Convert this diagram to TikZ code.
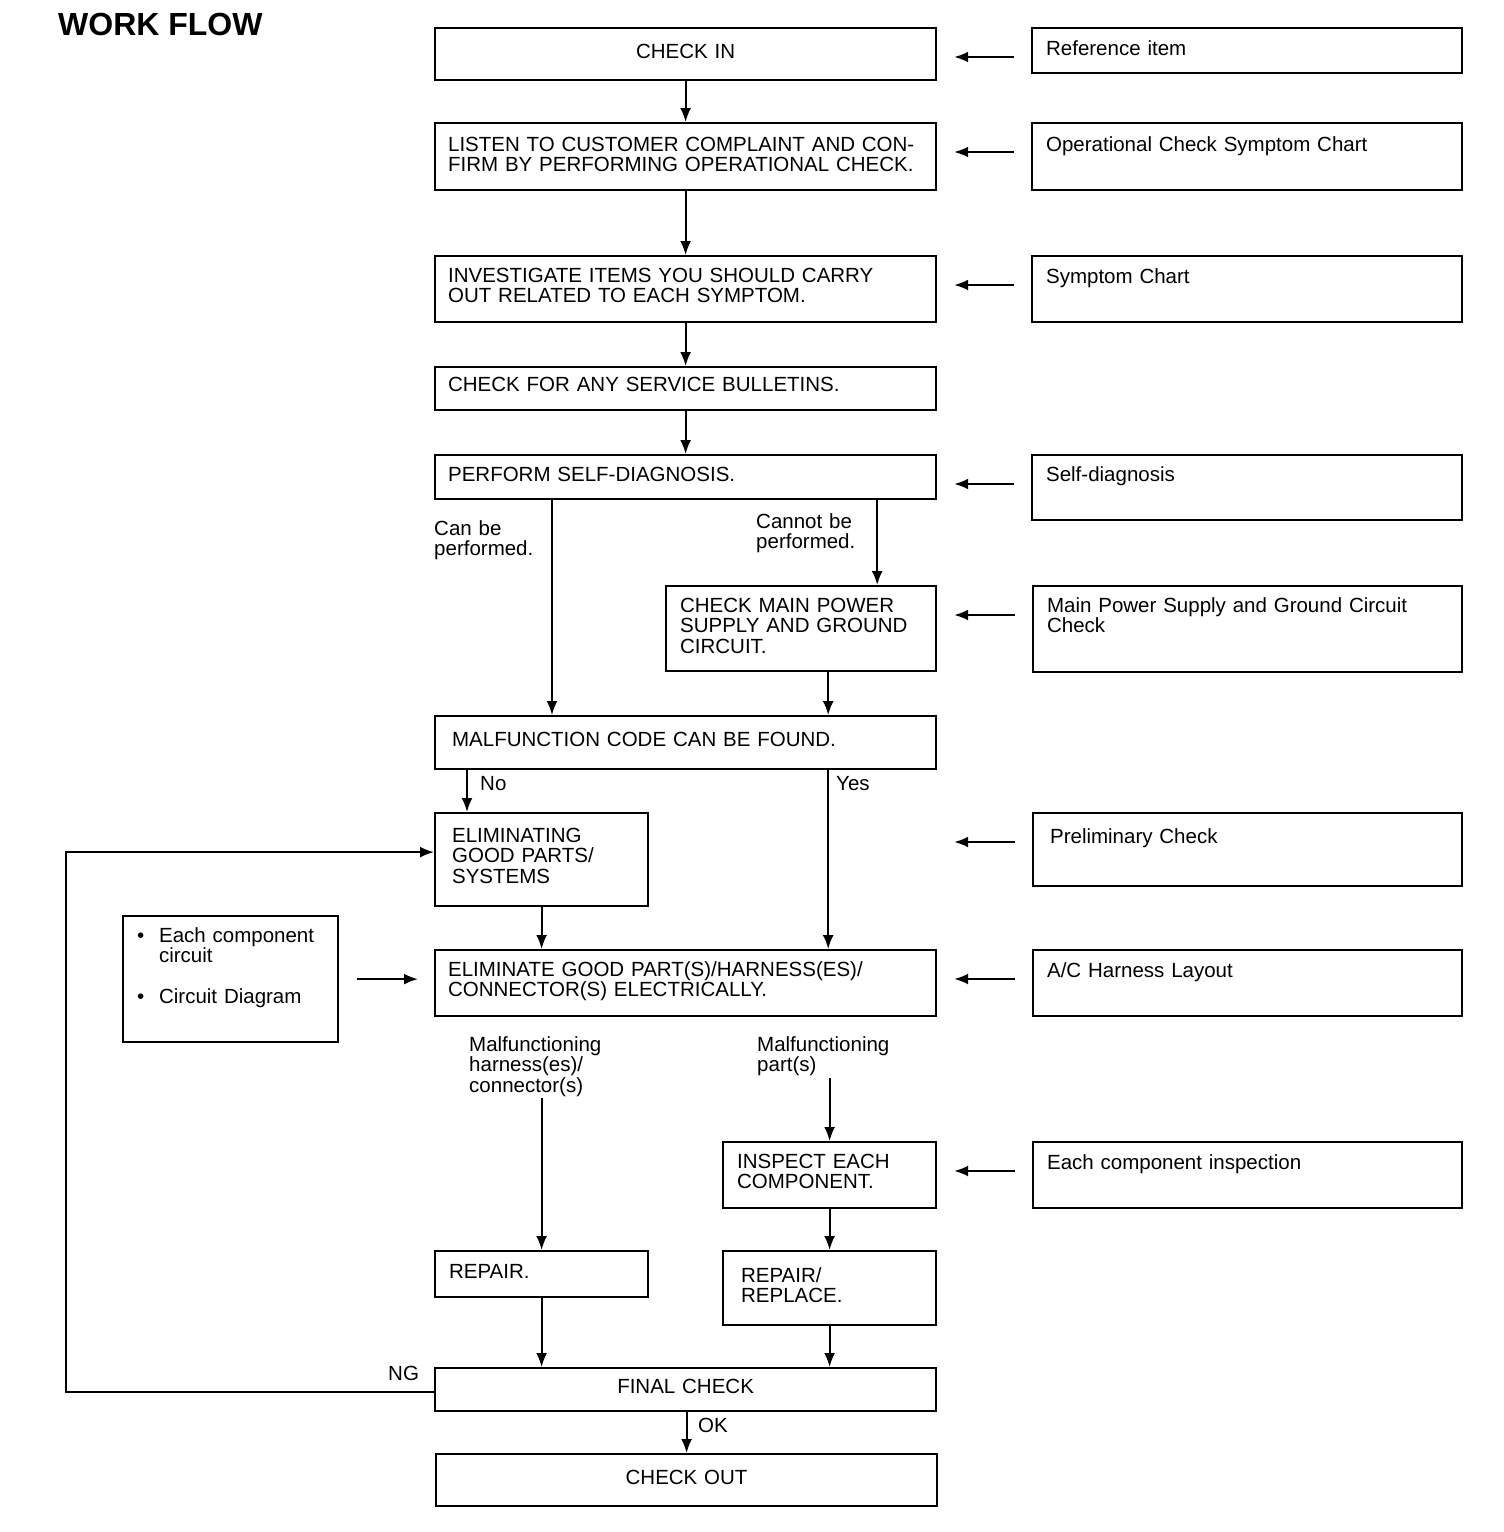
\documentclass[tikz,border=0pt]{standalone}
\usepackage{fontspec}
\setmainfont{Liberation Sans}
\usetikzlibrary{arrows.meta}
\newcommand{\flowfont}{\fontsize{20.5}{20.5}\selectfont}

\begin{document}
\begin{tikzpicture}[x=1pt,y=-1pt,
    box/.style={draw, line width=2.2pt, anchor=north west, inner ysep=0pt, inner xsep=13pt, align=left, font=\flowfont},
    refbox/.style={box, inner xsep=14pt, text width=402pt},
    lbl/.style={anchor=base west, inner sep=0pt, align=left, text width=170pt, font=\flowfont},
    flow/.style={line width=2pt, -{Latex[length=14pt,width=11pt]}},
    refarrow/.style={flow, shorten <=17pt, shorten >=17pt}]
    \useasboundingbox (0,0) rectangle (1504,1532);

    \node[anchor=base west, inner sep=0pt, font=\fontsize{32}{32}\selectfont\bfseries] (title) at (58,35) {WORK FLOW};

    \node[box, inner xsep=0pt, text width=501pt, align=center, text height=30pt, text depth=22pt] (checkin) at (434,27) {CHECK IN};
    \node[box, text width=475pt, text height=28pt, text depth=39pt] (listen) at (434,122)
        {LISTEN TO CUSTOMER COMPLAINT AND CON-\\FIRM BY PERFORMING OPERATIONAL CHECK.};
    \node[box, text width=475pt, text height=26pt, text depth=40pt] (investigate) at (434,255)
        {INVESTIGATE ITEMS YOU SHOULD CARRY\\OUT RELATED TO EACH SYMPTOM.};
    \node[box, text width=475pt, text height=24pt, text depth=19pt] (bulletins) at (434,366) {CHECK FOR ANY SERVICE BULLETINS.};
    \node[box, text width=475pt, text height=26pt, text depth=18pt] (selfdiag) at (434,454) {PERFORM SELF-DIAGNOSIS.};
    \node[box, inner xsep=14pt, text width=242pt, text height=26pt, text depth=59pt] (mainpower) at (665,585)
        {CHECK MAIN POWER\\SUPPLY AND GROUND\\CIRCUIT.};
    \node[box, inner xsep=17pt, text width=467pt, text height=30pt, text depth=23pt] (malfunction) at (434,715) {MALFUNCTION CODE CAN BE FOUND.};
    \node[box, inner xsep=17pt, text width=179pt, text height=29pt, text depth=64pt] (eliminating) at (434,812)
        {ELIMINATING\\GOOD PARTS/\\SYSTEMS};
    \node[box, text width=475pt, text height=26pt, text depth=40pt] (eliminate) at (434,949)
        {ELIMINATE GOOD PART(S)/HARNESS(ES)/\\CONNECTOR(S) ELECTRICALLY.};
    \node[box, inner xsep=14pt, text width=185pt, text height=26pt, text depth=40pt] (inspect) at (722,1141)
        {INSPECT EACH\\COMPONENT.};
    \node[box, inner xsep=14pt, text width=185pt, text height=27pt, text depth=19pt] (repair) at (434,1250) {REPAIR.};
    \node[box, inner xsep=18pt, text width=177pt, text height=31pt, text depth=43pt] (replace) at (722,1250)
        {REPAIR/\\REPLACE.};
    \node[box, inner xsep=0pt, text width=501pt, align=center, text height=25pt, text depth=18pt] (final) at (434,1367) {FINAL CHECK};
    \node[box, inner xsep=0pt, text width=501pt, align=center, text height=30pt, text depth=22pt] (checkout) at (435,1453) {CHECK OUT};

    \node[refbox, text height=27pt, text depth=18pt] (refitem) at (1031,27) {Reference item};
    \node[refbox, text height=28pt, text depth=39pt] (refops) at (1031,122) {Operational Check Symptom Chart};
    \node[refbox, text height=27pt, text depth=39pt] (refsymp) at (1031,255) {Symptom Chart};
    \node[refbox, text height=26pt, text depth=39pt] (refself) at (1031,454) {Self-diagnosis};
    \node[refbox, text width=401pt, text height=26pt, text depth=60pt] (refpower) at (1032,585)
        {Main Power Supply and Ground Circuit\\Check};
    \node[refbox, inner xsep=17pt, text width=395pt, text height=30pt, text depth=43pt] (refprelim) at (1032,812) {Preliminary Check};
    \node[refbox, text width=401pt, text height=27pt, text depth=39pt] (refharness) at (1032,949) {A/C Harness Layout};
    \node[refbox, text width=401pt, text height=27pt, text depth=39pt] (refinsp) at (1032,1141) {Each component inspection};
    \node[box, inner xsep=14pt, text width=187pt, text height=26pt, text depth=100pt] (refcircuit) at (122,915)
        {\makebox[22pt][l]{\textbullet}Each component\\\hspace*{22pt}circuit\\[20.5pt]\makebox[22pt][l]{\textbullet}Circuit Diagram};

    \node[lbl] (canbe) at (434,535) {Can be\\performed.};
    \node[lbl] (cannot) at (756,528) {Cannot be\\performed.};
    \node[lbl] (no) at (480,790) {No};
    \node[lbl] (yes) at (836,790) {Yes};
    \node[lbl] (harnlbl) at (469,1051) {Malfunctioning\\harness(es)/\\connector(s)};
    \node[lbl] (partlbl) at (757,1051) {Malfunctioning\\part(s)};
    \node[lbl] (ok) at (698,1432) {OK};
    \node[lbl] (ng) at (388,1380) {NG};
    \coordinate (harnsplit) at (541,1098);
    \coordinate (partsplit) at (829,1078);

    \draw[flow] (checkin) -- (listen);
    \draw[flow] (listen) -- (investigate);
    \draw[flow] (investigate) -- (bulletins);
    \draw[flow] (bulletins) -- (selfdiag);
    \draw[flow] ([xshift=118pt]selfdiag.south west) -- ([xshift=118pt]malfunction.north west);
    \draw[flow] ([xshift=-60pt]selfdiag.south east) -- ([xshift=-60pt]mainpower.north east);
    \draw[flow] ([xshift=-109pt]mainpower.south east) -- ([xshift=-109pt]malfunction.north east);
    \draw[flow] ([xshift=33pt]malfunction.south west) -- ([xshift=33pt]eliminating.north west);
    \draw[flow] ([xshift=-109pt]malfunction.south east) -- ([xshift=-109pt]eliminate.north east);
    \draw[flow] (eliminating) -- (eliminating.south |- eliminate.north);
    \draw[flow] (harnsplit -| repair) -- (repair);
    \draw[flow] (partsplit -| inspect) -- (inspect);
    \draw[flow] (inspect) -- (replace);
    \draw[flow] (repair) -- (repair |- final.north);
    \draw[flow] (replace) -- (replace |- final.north);
    \draw[flow] (final.south -| checkout) -- (checkout);
    \draw[flow] ([yshift=-2.5pt]final.west) -- ++(-368,0) |- ([yshift=7.5pt]eliminating.west);

    \draw[refarrow] ([yshift=-30pt]refitem.north west) -- ([yshift=-30pt]refitem.north west -| checkin.east);
    \draw[refarrow] ([yshift=-30pt]refops.north west) -- ([yshift=-30pt]refops.north west -| listen.east);
    \draw[refarrow] ([yshift=-30pt]refsymp.north west) -- ([yshift=-30pt]refsymp.north west -| investigate.east);
    \draw[refarrow] ([yshift=-30pt]refself.north west) -- ([yshift=-30pt]refself.north west -| selfdiag.east);
    \draw[refarrow] ([yshift=-30pt]refpower.north west) -- ([yshift=-30pt]refpower.north west -| mainpower.east);
    \draw[refarrow] ([yshift=-30pt]refprelim.north west) -- ([yshift=-30pt]refprelim.north west -| malfunction.east);
    \draw[refarrow] ([yshift=-30pt]refharness.north west) -- ([yshift=-30pt]refharness.north west -| eliminate.east);
    \draw[refarrow] ([yshift=-30pt]refinsp.north west) -- ([yshift=-30pt]refinsp.north west -| inspect.east);
    \draw[flow, shorten <=18pt, shorten >=16pt] (refcircuit.east) -- (refcircuit.east -| eliminate.west);
\end{tikzpicture}
\end{document}
